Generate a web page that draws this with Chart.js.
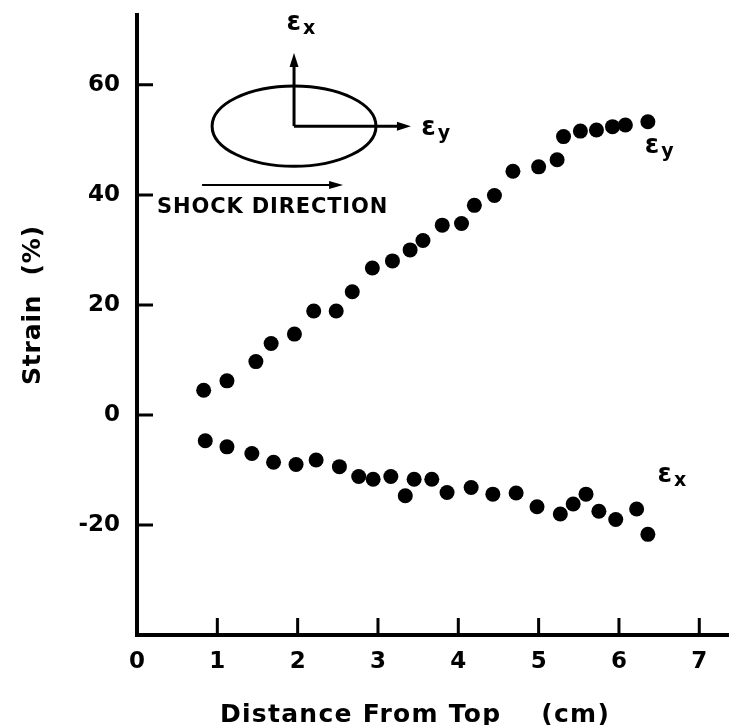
<!DOCTYPE html>
<html>
<head>
<meta charset="utf-8">
<script src="https://cdn.jsdelivr.net/npm/chart.js@4.4.1/dist/chart.umd.min.js"></script>
<style>
  html, body { margin: 0; padding: 0; background: #fff; }
  #c { display: block; }
</style>
</head>
<body>
<canvas id="c" width="729" height="725"></canvas>
<script>
// 축 눈금
const xTicks = [0, 1, 2, 3, 4, 5, 6, 7];
const yTicks = [-20, 0, 20, 40, 60];

// εy (위쪽 계열)
const epsYDist   = [0.83, 1.12, 1.48, 1.67, 1.96, 2.20, 2.48, 2.68, 2.93, 3.18, 3.40, 3.56, 3.80,
                    4.04, 4.20, 4.45, 4.68, 5.00, 5.23, 5.31, 5.52, 5.72, 5.92, 6.08, 6.36];
const epsYStrain = [4.5, 6.2, 9.7, 13.0, 14.7, 18.9, 18.9, 22.4, 26.7, 28.0, 30.0, 31.7, 34.5,
                    34.8, 38.1, 39.9, 44.3, 45.1, 46.4, 50.6, 51.6, 51.8, 52.4, 52.7, 53.3];

// εx (아래쪽 계열)
const epsXDist   = [0.85, 1.12, 1.43, 1.70, 1.98, 2.23, 2.52, 2.76, 2.94, 3.16, 3.34, 3.45, 3.67,
                    3.86, 4.16, 4.43, 4.72, 4.98, 5.27, 5.43, 5.59, 5.75, 5.96, 6.22, 6.36];
const epsXStrain = [-4.7, -5.8, -7.0, -8.6, -9.0, -8.2, -9.4, -11.2, -11.7, -11.2, -14.7, -11.7, -11.7,
                    -14.1, -13.2, -14.4, -14.2, -16.7, -18.0, -16.2, -14.4, -17.5, -19.0, -17.1, -21.7];

const FONT = '"DejaVu Sans", sans-serif';

// 글자 간격을 맞춰서 주어진 폭에 텍스트 그리기
function fitText(ctx, text, x, y, width) {
    ctx.letterSpacing = '0px';
    const w = ctx.measureText(text).width;
    const sp = (width - w) / text.length;
    ctx.letterSpacing = sp.toFixed(2) + 'px';
    ctx.fillText(text, x, y);
    ctx.letterSpacing = '0px';
}

function arrow(ctx, x0, y0, x1, y1, lw, hl, hw) {
    const a = Math.atan2(y1 - y0, x1 - x0);
    const c = Math.cos(a), s = Math.sin(a);
    ctx.lineWidth = lw;
    ctx.beginPath();
    ctx.moveTo(x0, y0);
    ctx.lineTo(x1 - hl * c * 0.7, y1 - hl * s * 0.7);
    ctx.stroke();
    ctx.beginPath();
    ctx.moveTo(x1, y1);
    ctx.lineTo(x1 - hl * c - hw * s, y1 - hl * s + hw * c);
    ctx.lineTo(x1 - hl * c + hw * s, y1 - hl * s - hw * c);
    ctx.closePath();
    ctx.fill();
}

function epsLabel(ctx, sub, x, y) {
    ctx.font = 'bold 26px ' + FONT;
    ctx.fillText('ε', x, y);
    const w = ctx.measureText('ε').width;
    ctx.font = 'bold 19px ' + FONT;
    ctx.fillText(sub, x + w + 2, y + 4);
}

// 안쪽으로 향하는 눈금
const inwardTicks = {
    id: 'inwardTicks',
    afterDraw(chart) {
        const { ctx, chartArea: a, scales: { x, y } } = chart;
        ctx.save();
        ctx.strokeStyle = '#000';
        ctx.lineWidth = 3;
        ctx.beginPath();
        x.ticks.forEach(t => {
            if (t.value === 0) return;
            const p = x.getPixelForValue(t.value);
            ctx.moveTo(p, a.bottom);
            ctx.lineTo(p, a.bottom - 17);
        });
        y.ticks.forEach(t => {
            const p = y.getPixelForValue(t.value);
            ctx.moveTo(a.left, p);
            ctx.lineTo(a.left + 16, p);
        });
        ctx.stroke();
        ctx.restore();
    }
};

// 삽입 그림, 계열 이름, 축 제목
const annotate = {
    id: 'annotate',
    afterDraw(chart) {
        const { ctx, scales: { x, y } } = chart;
        const px = v => x.getPixelForValue(v);
        const py = v => y.getPixelForValue(v);
        ctx.save();
        ctx.strokeStyle = '#000';
        ctx.fillStyle = '#000';
        ctx.textBaseline = 'alphabetic';
        ctx.textAlign = 'left';

        const cx = px(1.955), cy = py(52.5);
        ctx.lineWidth = 3;
        ctx.beginPath();
        ctx.ellipse(cx, cy, px(1.955 + 1.02) - cx, cy - py(52.5 + 7.3), 0, 0, Math.PI * 2);
        ctx.stroke();
        arrow(ctx, cx, cy, cx, py(65.8), 3, 14, 4.5);
        arrow(ctx, cx, cy, px(3.41), cy, 3, 14, 4.5);
        arrow(ctx, px(0.81), py(41.8), px(2.565), py(41.8), 2, 14, 4);

        epsLabel(ctx, 'x', px(1.86), py(70.0));
        epsLabel(ctx, 'y', px(3.54), py(50.9));
        epsLabel(ctx, 'y', px(6.32), py(47.6));
        epsLabel(ctx, 'x', px(6.48), py(-12.2));

        ctx.font = 'bold 21px ' + FONT;
        fitText(ctx, 'SHOCK DIRECTION', px(0.25), py(36.7), 231);

        // 축 제목
        ctx.font = 'bold 25px ' + FONT;
        fitText(ctx, 'Distance From Top    (cm)', 220, 722, 390);
        ctx.translate(40, 385);
        ctx.rotate(-Math.PI / 2);
        fitText(ctx, 'Strain  (%)', 0, 0, 160);
        ctx.restore();
    }
};

const tickFont = { family: FONT, weight: 'bold', size: 23 };

new Chart(document.getElementById('c'), {
    type: 'scatter',
    data: {
        datasets: [
            {
                label: 'εy',
                data: epsYDist.map((d, i) => ({ x: d, y: epsYStrain[i] })),
                backgroundColor: '#000',
                borderWidth: 0,
                pointRadius: 7.5
            },
            {
                label: 'εx',
                data: epsXDist.map((d, i) => ({ x: d, y: epsXStrain[i] })),
                backgroundColor: '#000',
                borderWidth: 0,
                pointRadius: 7.5
            }
        ]
    },
    options: {
        responsive: false,
        animation: false,
        layout: { autoPadding: false, padding: { top: 15, right: 0, left: 0, bottom: 0 } },
        plugins: {
            legend: { display: false },
            tooltip: { enabled: false }
        },
        scales: {
            x: {
                type: 'linear',
                min: 0,
                max: 7.37,
                afterBuildTicks: s => { s.ticks = xTicks.map(v => ({ value: v })); },
                afterFit: s => { s.height = 90; s.paddingLeft = 0; s.paddingRight = 0; },
                grid: { display: false, drawTicks: false },
                border: { display: true, color: '#000', width: 4 },
                ticks: { color: '#000', font: tickFont, padding: 13, maxRotation: 0 }
            },
            y: {
                type: 'linear',
                min: -40,
                max: 72.7,
                afterBuildTicks: s => { s.ticks = yTicks.map(v => ({ value: v })); },
                afterFit: s => { s.width = 137; s.paddingTop = 0; s.paddingBottom = 0; },
                grid: { display: false, drawTicks: false },
                border: { display: true, color: '#000', width: 4 },
                ticks: { color: '#000', font: tickFont, padding: 17 }
            }
        }
    },
    plugins: [inwardTicks, annotate]
});
</script>
</body>
</html>
